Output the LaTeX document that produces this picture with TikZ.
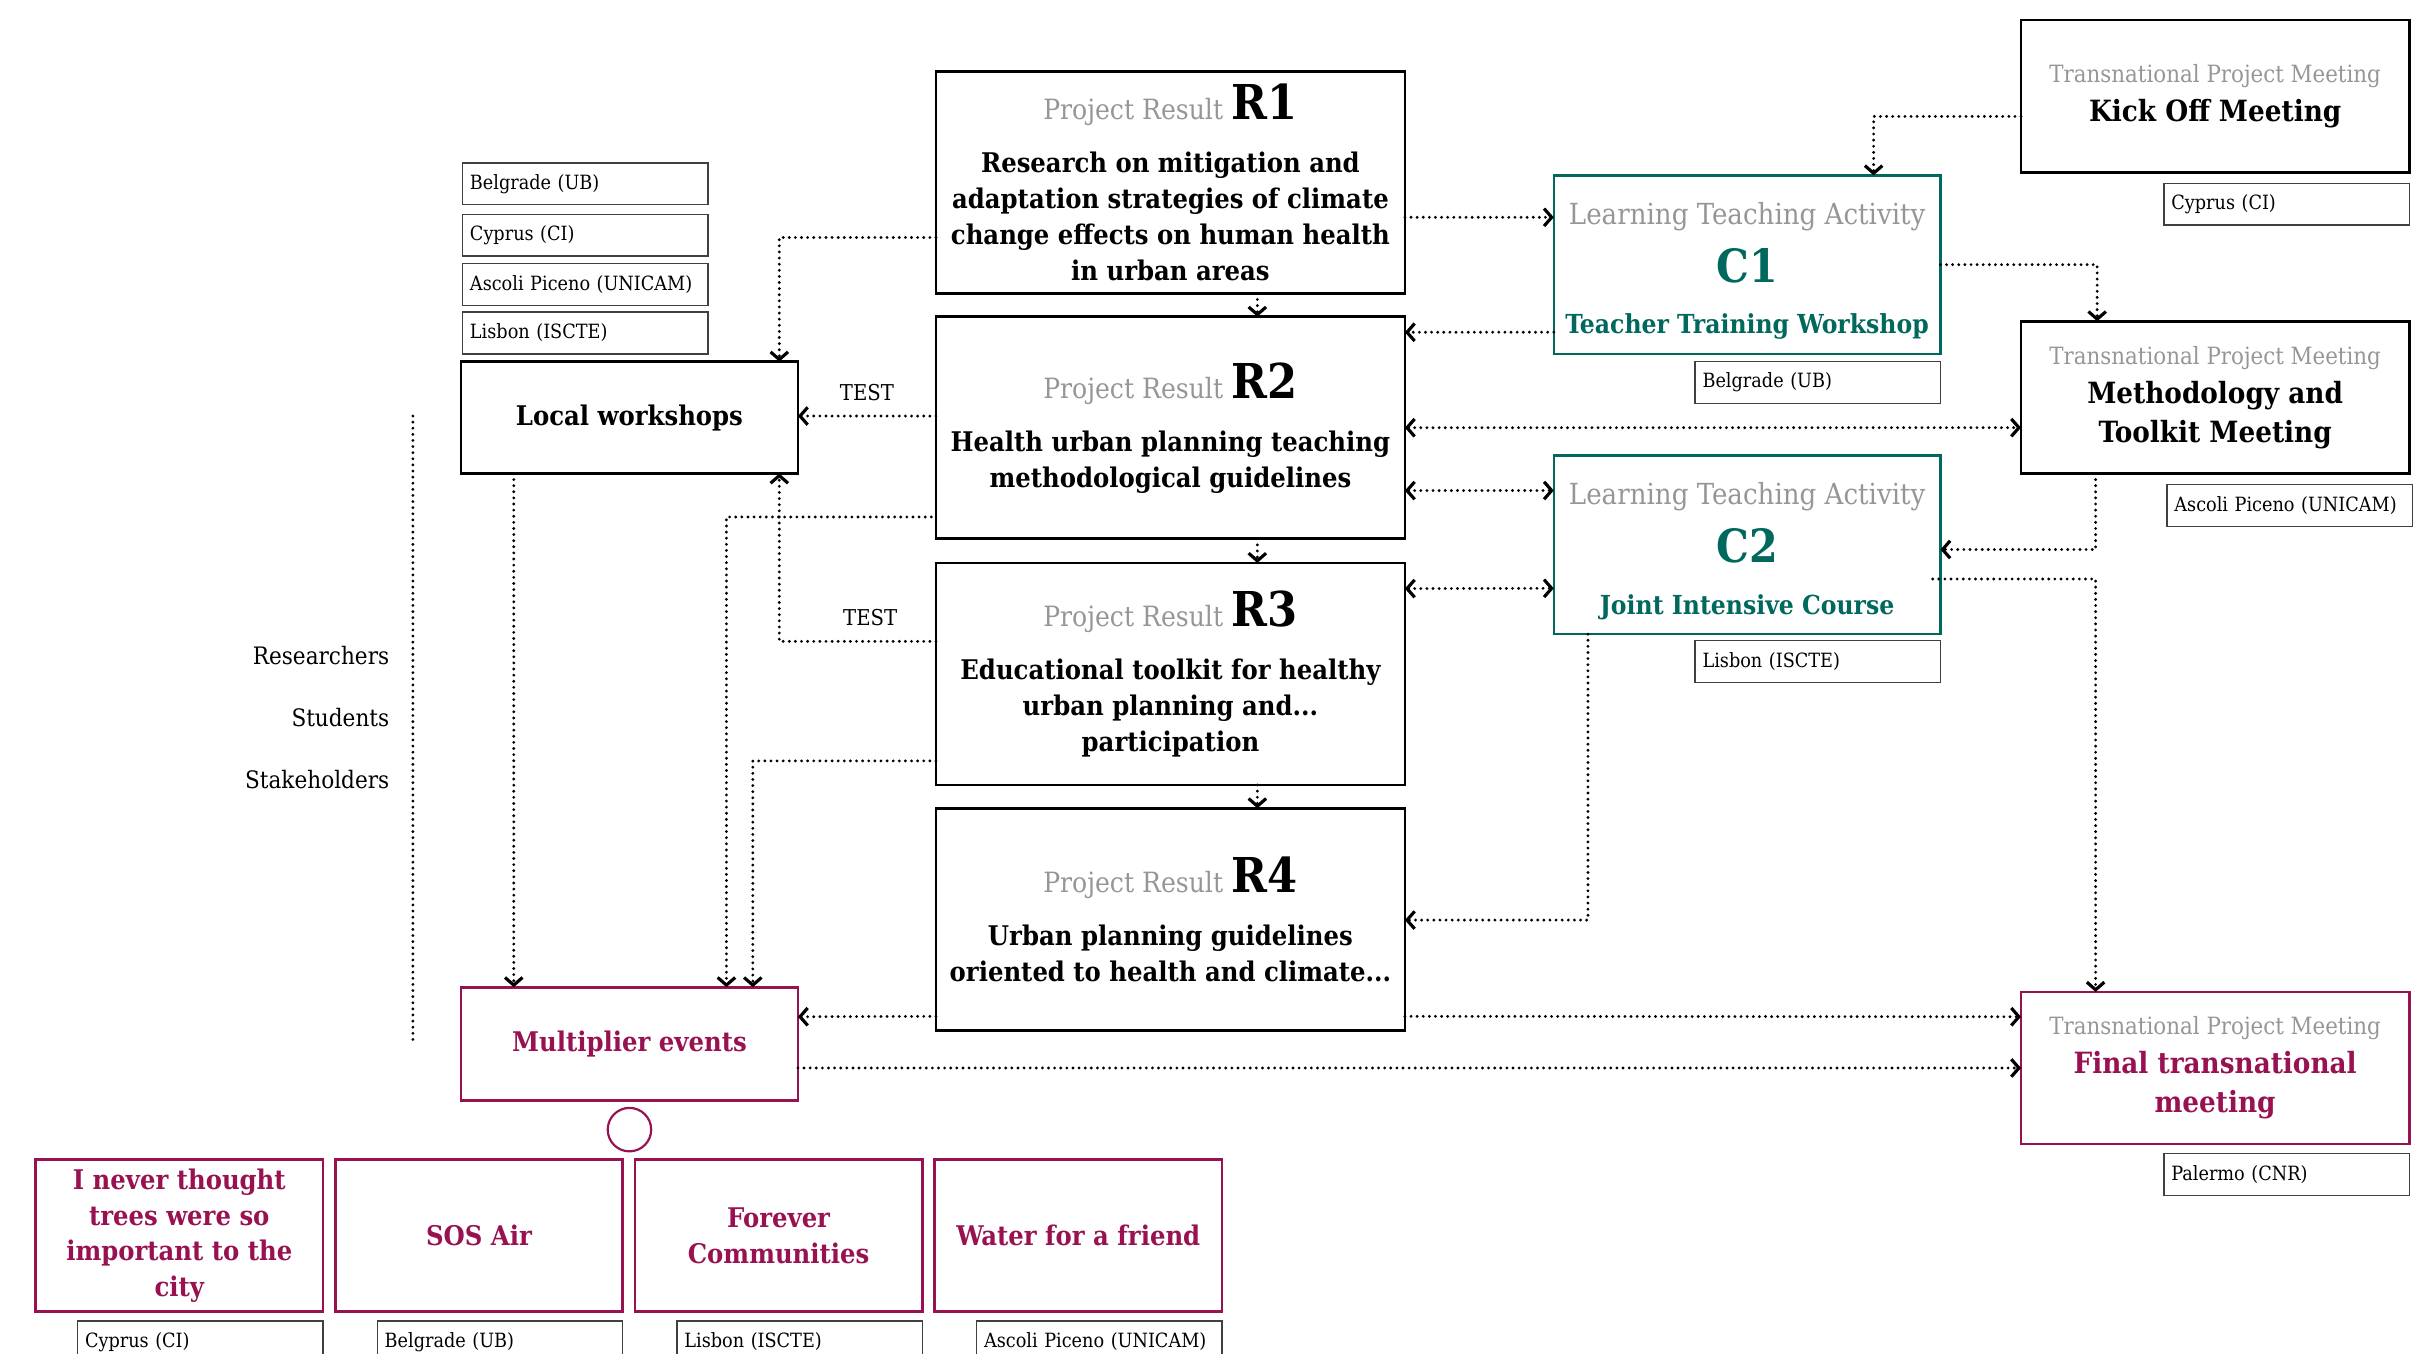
\documentclass[tikz,border=0pt]{standalone}
\usepackage{fontspec}
\setmainfont{DejaVu Serif Condensed}
\usetikzlibrary{positioning}
\usetikzlibrary{arrows.meta}
\usetikzlibrary{calc}

\definecolor{ltacolor}{RGB}{0,104,92}
\definecolor{mecolor}{RGB}{152,18,82}
\definecolor{headgray}{RGB}{150,150,150}

\newcommand{\resulthead}[1]{{\color{headgray}\fontsize{12.8}{14}\selectfont\mdseries Project Result} {\fontsize{22}{24}\selectfont\bfseries #1}}
\newcommand{\meetinghead}{{\color{headgray}\fontsize{10.9}{12}\selectfont\mdseries Transnational Project Meeting}}
\newcommand{\activityhead}{{\color{headgray}\fontsize{13.3}{15}\selectfont\mdseries\rule{0pt}{16pt}Learning Teaching Activity}}

\begin{document}
\begin{tikzpicture}[
    x=0.025cm, y=-0.025cm,
    >={Straight Barb[length=3.5pt, width=8pt]},
    result/.style={rectangle, draw=black, line width=1.2pt, outer sep=0pt, minimum width=7.55cm, minimum height=3.575cm, align=center, font=\fontsize{12.4}{16.4}\selectfont\bfseries},
    activity/.style={rectangle, draw=ltacolor, line width=1.2pt, outer sep=0pt, text=ltacolor, minimum width=6.225cm, minimum height=2.875cm, align=center, font=\fontsize{12}{16}\selectfont\bfseries},
    meeting/.style={rectangle, draw=black, line width=1.2pt, outer sep=0pt, minimum width=6.25cm, minimum height=2.45cm, align=center, font=\fontsize{13.4}{17.8}\selectfont\bfseries},
    local/.style={rectangle, draw=black, line width=1.2pt, outer sep=0pt, minimum width=5.425cm, minimum height=1.8cm, align=center, font=\fontsize{12.4}{16}\selectfont\bfseries},
    event/.style={rectangle, draw=mecolor, line width=1.2pt, outer sep=0pt, text=mecolor, align=center, font=\fontsize{12.4}{16.4}\selectfont\bfseries},
    partner/.style={rectangle, draw=black!75, line width=0.6pt, outer sep=0pt, minimum height=0.675cm, text width=3.71cm, inner xsep=0.12cm, align=left, font=\fontsize{9}{11}\selectfont},
    link/.style={line width=1.45pt, line cap=round, dash pattern=on 0pt off 2.8pt},
    group/.style={font=\fontsize{11}{13}\selectfont, anchor=east, inner sep=0pt},
]
    \useasboundingbox (0,0) rectangle (1568,872);
    \clip (0,0) rectangle (1568,872);

    % project results
    \node[result] (r1) at (754,117.5) {\resulthead{R1}\\[8pt] Research on mitigation and\\ adaptation strategies of climate\\ change effects on human health\\ in urban areas};
    \node[result] (r2) [below=0.375cm of r1] {\resulthead{R2}\\[8pt] Health urban planning teaching\\ methodological guidelines};
    \node[result] (r3) [below=0.39cm of r2] {\resulthead{R3}\\[8pt] Educational toolkit for healthy\\ urban planning and...\\ participation};
    \node[result] (r4) [below=0.375cm of r3] {\resulthead{R4}\\[8pt] Urban planning guidelines\\ oriented to health and climate...};

    % learning teaching activities
    \node[activity] (c1) at (1125.5,170.5) {\activityhead\\[7pt] {\fontsize{21}{24}\selectfont C1}\\[7.5pt] Teacher Training Workshop};
    \node[activity] (c2) at (1125.5,351) {\activityhead\\[7pt] {\fontsize{21}{24}\selectfont C2}\\[7.5pt] Joint Intensive Course};
    \node[partner] (c1p) [below=0.125cm of c1.south east, anchor=north east] {Belgrade (UB)};
    \node[partner] (c2p) [below=0.1cm of c2.south east, anchor=north east] {Lisbon (ISCTE)};

    % transnational meetings
    \node[meeting] (ko) at (1427,62) {\meetinghead\\ Kick Off Meeting};
    \node[meeting] (meth) at (1427,256) {\meetinghead\\ Methodology and\\ Toolkit Meeting};
    \node[meeting, draw=mecolor, text=mecolor] (final) at (1427,688) {\meetinghead\\ Final transnational\\ meeting};
    \node[partner] (kop) [below=0.175cm of ko.south east, anchor=north east] {Cyprus (CI)};
    \node[partner] (methp) [below=0.175cm of meth.south east, anchor=north east, xshift=0.05cm] {Ascoli Piceno (UNICAM)};
    \node[partner] (finalp) [below=0.15cm of final.south east, anchor=north east] {Palermo (CNR)};

    % local workshops
    \node[local] (lw) at (405.5,269) {Local workshops};
    \node[partner] (lwp4) [above=0.125cm of lw.north west, anchor=south west, xshift=0.025cm] {Lisbon (ISCTE)};
    \node[partner] (lwp3) [above=0.1cm of lwp4.north west, anchor=south west] {Ascoli Piceno (UNICAM)};
    \node[partner] (lwp2) [above=0.125cm of lwp3.north west, anchor=south west] {Cyprus (CI)};
    \node[partner] (lwp1) [above=0.15cm of lwp2.north west, anchor=south west] {Belgrade (UB)};

    % multiplier events
    \node[local, draw=mecolor, text=mecolor, minimum height=1.825cm] (mult) at (405.5,672.5) {Multiplier events};
    \node[circle, draw=mecolor, line width=1pt, minimum size=0.7cm] (hub) [below=0.1cm of mult] {};
    \node[event, minimum width=4.625cm, minimum height=2.45cm] (ev1) at (115.5,796) {I never thought\\ trees were so\\ important to the\\ city};
    \node[event, minimum width=4.625cm, minimum height=2.45cm] (ev2) [right=0.2cm of ev1] {SOS Air};
    \node[event, minimum width=4.625cm, minimum height=2.45cm] (ev3) [right=0.2cm of ev2] {Forever\\ Communities};
    \node[event, minimum width=4.625cm, minimum height=2.45cm] (ev4) [right=0.2cm of ev3] {Water for a friend};
    \node[partner] (ev1p) [below=0.15cm of ev1.south east, anchor=north east] {Cyprus (CI)};
    \node[partner] (ev2p) [below=0.15cm of ev2.south east, anchor=north east] {Belgrade (UB)};
    \node[partner] (ev3p) [below=0.15cm of ev3.south east, anchor=north east] {Lisbon (ISCTE)};
    \node[partner] (ev4p) [below=0.15cm of ev4.south east, anchor=north east] {Ascoli Piceno (UNICAM)};

    % target groups
    \node[group] (res) at (251,422) {Researchers};
    \node[group] (stu) at (251,462) {Students};
    \node[group] (sta) at (251,502) {Stakeholders};
    \draw[link] (266,268) -- (266,673);

    % results chain
    \draw[link, ->] ($(r1.south)+(56,0)$) -- ($(r2.north)+(56,0)$);
    \draw[link, ->] ($(r2.south)+(56,0)$) -- ($(r3.north)+(56,0)$);
    \draw[link, ->] ($(r3.south)+(56,0)$) -- ($(r4.north)+(56,0)$);

    % results <-> activities and meetings
    \draw[link, ->] ($(r1.east)+(0,22.5)$) -- ($(c1.west)+(0,-30.5)$);
    \draw[link, ->] ($(c1.west)+(0,43.5)$) -- ($(r2.east)+(0,-61.5)$);
    \draw[link, <->] (r2.east) -- ($(meth.west)+(0,19.5)$);
    \draw[link, <->] ($(r2.east)+(0,40.5)$) -- ($(c2.west)+(0,-35)$);
    \draw[link, <->] ($(r3.east)+(0,-55)$) -- ($(c2.west)+(0,28)$);
    \draw[link, ->] ($(c2.south west)+(22,0)$) |- ($(r4.east)+(0,0.5)$);

    % meetings chain
    \draw[link, ->] ($(ko.west)+(0,13)$) -| ($(c1.north)+(81.5,0)$);
    \draw[link, ->] (c1.east) -| ($(meth.north)+(-76,0)$);
    \draw[link, ->] ($(meth.south)+(-77,0)$) |- ($(c2.east)+(0,3)$);
    \draw[link, ->] ($(c2.east)+(-5,22)$) -| ($(final.north)+(-77,0)$);
    \draw[link, ->] ($(r4.east)+(0,62.5)$) -- ($(final.west)+(0,-33)$);
    \draw[link, ->] ($(mult.east)+(0,15.5)$) -- (final.west);

    % towards local workshops and multiplier events
    \draw[link, ->] ($(r1.west)+(0,35.5)$) -| ($(lw.north east)+(-12,0)$);
    \draw[link, ->] ($(r2.west)+(0,-7.5)$) -- ($(lw.east)+(0,-1)$) node[midway, above=0.1cm, font=\fontsize{10}{12}\selectfont] {TEST};
    \draw[link, ->] ($(r3.west)+(0,-21)$) -| ($(lw.south east)+(-12,0)$) node[pos=0.21, above=0.1cm, font=\fontsize{10}{12}\selectfont] {TEST};
    \draw[link, ->] ($(lw.south west)+(34,0)$) -- ($(mult.north west)+(34,0)$);
    \draw[link, ->] ($(r2.west)+(-3,57.5)$) -| ($(mult.north west)+(171,0)$);
    \draw[link, ->] ($(r3.west)+(0,56)$) -| ($(mult.north west)+(188,0)$);
    \draw[link, ->] ($(r4.west)+(0,62.5)$) -- ($(mult.east)+(0,-17.5)$);
\end{tikzpicture}
\end{document}
